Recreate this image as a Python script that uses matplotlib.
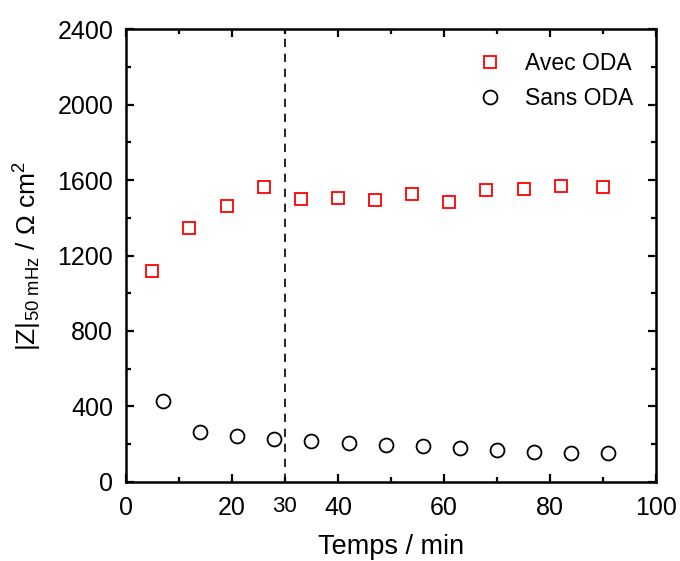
import matplotlib
matplotlib.use("Agg")
import matplotlib.pyplot as plt
from matplotlib.ticker import MultipleLocator

plt.rcParams['font.family'] = ['Liberation Sans', 'DejaVu Sans']
plt.rcParams['mathtext.fontset'] = 'custom'
plt.rcParams['mathtext.rm'] = 'Liberation Sans'
plt.rcParams['mathtext.it'] = 'Liberation Sans'

# donnees
t_avec = [5, 12, 19, 26, 33, 40, 47, 54, 61, 68, 75, 82, 90]
z_avec = [1120, 1345, 1460, 1562, 1498, 1505, 1492, 1528, 1482, 1548, 1552, 1570, 1562]
t_sans = [7, 14, 21, 28, 35, 42, 49, 56, 63, 70, 77, 84, 91]
z_sans = [430, 265, 245, 228, 218, 207, 198, 188, 178, 170, 160, 155, 155]
t_coupure = 30

fig = plt.figure(figsize=(6.8, 5.61), dpi=100)
ax = fig.add_axes([0.185, 0.141, 0.780, 0.807])

ax.plot(t_avec, z_avec, 's', ms=8.5, mfc='none', mec='red', mew=1.3, label='Avec ODA')
ax.plot(t_sans, z_sans, 'o', ms=10, mfc='none', mec='black', mew=1.3, label='Sans ODA')
ax.axvline(t_coupure, color='black', ls=(0, (5, 4)), lw=1.2)

ax.set_xlim(0, 100)
ax.set_ylim(0, 2400)
ax.xaxis.set_major_locator(MultipleLocator(20))
ax.xaxis.set_minor_locator(MultipleLocator(10))
ax.yaxis.set_major_locator(MultipleLocator(400))
ax.yaxis.set_minor_locator(MultipleLocator(200))
ax.tick_params(which='both', direction='in', top=True, right=True, width=1.6)
ax.tick_params(which='major', length=6, labelsize=18)
ax.tick_params(axis='x', which='major', pad=10)
ax.tick_params(axis='y', which='major', pad=9)
ax.tick_params(which='minor', length=3.5)
for s in ax.spines.values():
    s.set_linewidth(1.8)

# etiquette "30" plus petite sous la ligne pointillee
ax.text(t_coupure, -0.032, '30', transform=ax.get_xaxis_transform(),
        ha='center', va='top', fontsize=16)

ax.set_xlabel('Temps / min', fontsize=19.5, labelpad=10)
ax.set_ylabel(r'$|Z|_{50\ \mathrm{mHz}}$ / $\Omega$ cm$^2$', fontsize=19, labelpad=10)

ax.legend(loc='upper right', frameon=False, fontsize=16.5, handletextpad=0.75,
          borderaxespad=0.6, labelspacing=0.5, handlelength=1.6)

fig.savefig('out.png', dpi=100)
